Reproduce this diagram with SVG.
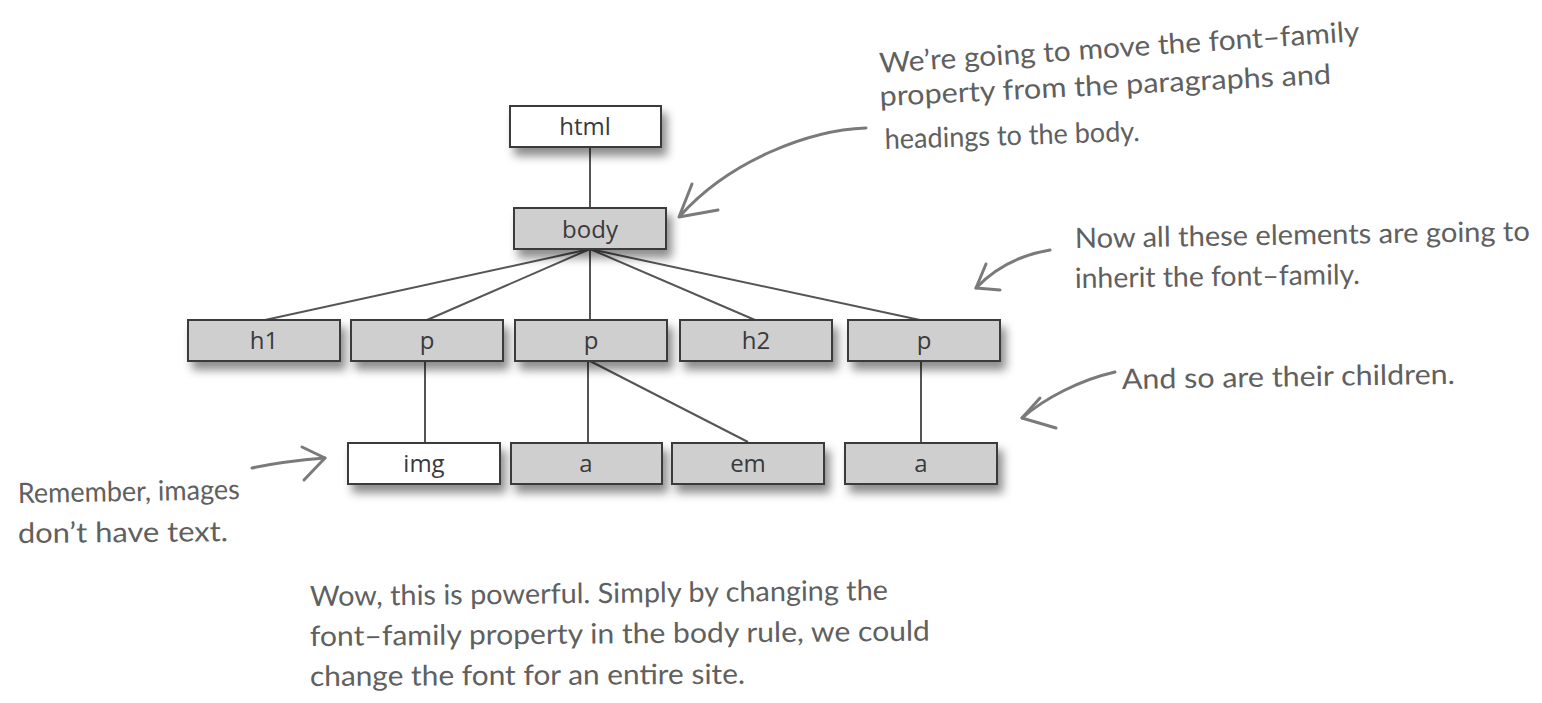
<svg xmlns="http://www.w3.org/2000/svg" width="1542" height="703" viewBox="0 0 1542 703">
<style>
.node rect{stroke:#3a3a3a;stroke-width:2;filter:url(#sh)}
.g{fill:#cfcfcf}
.w{fill:#ffffff}
.node text{font-family:"Open Sans","DejaVu Sans",sans-serif;font-size:24px;fill:#3a3a3a;text-anchor:middle}
.conn line{stroke:#555;stroke-width:2}
.note{font-family:"Lato","Open Sans",sans-serif;font-size:28px;fill:#606060}
.arr{fill:none;stroke:#7a7a7a;stroke-width:3;stroke-linecap:round;stroke-linejoin:round}
</style>
<defs>
<filter id="sh" x="-10%" y="-20%" width="130%" height="180%">
<feDropShadow dx="5" dy="8" stdDeviation="5" flood-color="#000" flood-opacity="0.45"/>
</filter>
</defs>
<rect width="1542" height="703" fill="#ffffff"/>
<g id="connectors" class="conn">
<line x1="590" y1="147" x2="590" y2="208"/>
<line x1="590" y1="249" x2="265" y2="320"/>
<line x1="590" y1="249" x2="427" y2="320"/>
<line x1="590" y1="249" x2="590" y2="320"/>
<line x1="590" y1="249" x2="755" y2="320"/>
<line x1="590" y1="249" x2="920" y2="320"/>
<line x1="425" y1="361" x2="425" y2="442"/>
<line x1="588" y1="361" x2="588" y2="442"/>
<line x1="590" y1="361" x2="748" y2="442"/>
<line x1="921" y1="361" x2="921" y2="442"/>
</g>
<g id="n-html" class="node"><rect class="w" x="510" y="106" width="151" height="41"/><text x="585" y="135">html</text></g>
<g id="n-body" class="node"><rect class="g" x="514" y="208" width="152" height="41"/><text x="590" y="238">body</text></g>
<g id="n-h1" class="node"><rect class="g" x="188" y="320" width="152" height="41"/><text x="264" y="349">h1</text></g>
<g id="n-p1" class="node"><rect class="g" x="351" y="320" width="152" height="41"/><text x="427" y="349">p</text></g>
<g id="n-p2" class="node"><rect class="g" x="515" y="320" width="152" height="41"/><text x="591" y="349">p</text></g>
<g id="n-h2" class="node"><rect class="g" x="680" y="320" width="152" height="41"/><text x="756" y="349">h2</text></g>
<g id="n-p3" class="node"><rect class="g" x="848" y="320" width="152" height="41"/><text x="924" y="349">p</text></g>
<g id="n-img" class="node"><rect class="w" x="348" y="443" width="152" height="41"/><text x="424" y="472">img</text></g>
<g id="n-a1" class="node"><rect class="g" x="511" y="443" width="151" height="41"/><text x="586" y="472">a</text></g>
<g id="n-em" class="node"><rect class="g" x="672" y="443" width="152" height="41"/><text x="748" y="472">em</text></g>
<g id="n-a2" class="node"><rect class="g" x="845" y="443" width="152" height="41"/><text x="921" y="472">a</text></g>
<g id="annotations">
<text class="note" x="880" y="73" transform="rotate(-3.8 880 73)" textLength="481" lengthAdjust="spacingAndGlyphs">We’re going to move the font–family</text>
<text class="note" x="880" y="106" transform="rotate(-2.8 880 106)" textLength="452" lengthAdjust="spacingAndGlyphs">property from the paragraphs and</text>
<text class="note" x="885" y="149" transform="rotate(-1.8 885 149)" textLength="255" lengthAdjust="spacingAndGlyphs">headings to the body.</text>
<text class="note" x="1075" y="248" transform="rotate(-0.9 1075 248)" textLength="455" lengthAdjust="spacingAndGlyphs">Now all these elements are going to</text>
<text class="note" x="1075" y="288" transform="rotate(-0.8 1075 288)" textLength="285" lengthAdjust="spacingAndGlyphs">inherit the font–family.</text>
<text class="note" x="1122" y="389" transform="rotate(-0.9 1122 389)" textLength="333" lengthAdjust="spacingAndGlyphs">And so are their children.</text>
<text class="note" x="18" y="503" transform="rotate(-1 18 503)" textLength="222" lengthAdjust="spacingAndGlyphs">Remember, images</text>
<text class="note" x="18" y="543" transform="rotate(-0.5 18 543)" textLength="210" lengthAdjust="spacingAndGlyphs">don’t have text.</text>
<text class="note" x="310" y="606" transform="rotate(-0.6 310 606)" textLength="578" lengthAdjust="spacingAndGlyphs">Wow, this is powerful. Simply by changing the</text>
<text class="note" x="310" y="646" transform="rotate(-0.5 310 646)" textLength="620" lengthAdjust="spacingAndGlyphs">font–family property in the body rule, we could</text>
<text class="note" x="310" y="686" transform="rotate(-0.3 310 686)" textLength="435" lengthAdjust="spacingAndGlyphs">change the font for an entire site.</text>
</g>
<g id="arrows">
<path class="arr" d="M866 128 C810 130 730 160 680 216"/>
<path class="arr" d="M692 184 L679 217 L718 210"/>
<path class="arr" d="M1050 250 C1020 255 995 268 976 288"/>
<path class="arr" d="M986 264 L976 288 L1000 290"/>
<path class="arr" d="M1115 372 C1080 380 1045 398 1022 418"/>
<path class="arr" d="M1040 398 L1022 418 L1056 428"/>
<path class="arr" d="M252 468 C275 463 300 460 325 458"/>
<path class="arr" d="M302 447 L325 458 L304 480"/>
</g>
</svg>
